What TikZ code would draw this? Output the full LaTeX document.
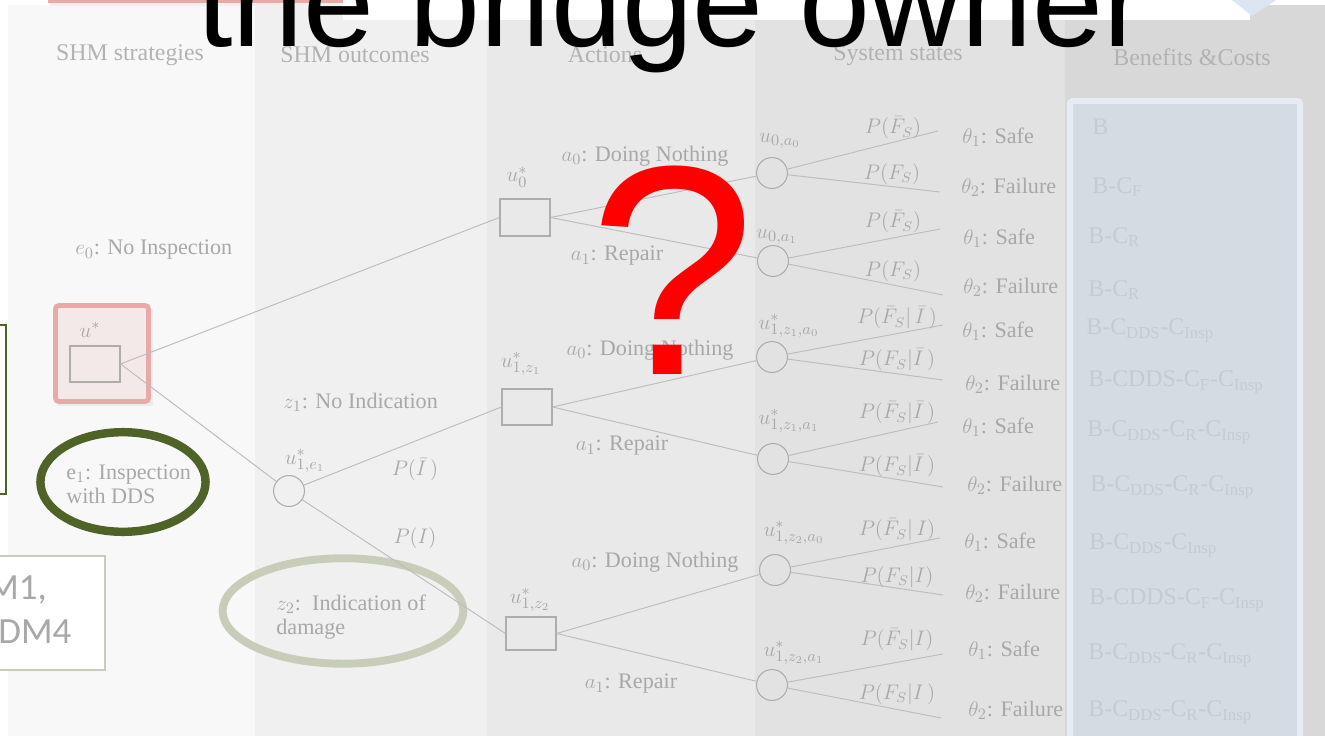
\documentclass[tikz,border=0pt]{standalone}
\usepackage{fontspec}
\setmainfont{Liberation Serif}
\newfontfamily\arialf{Liberation Sans}
\newfontfamily\calibf{Carlito}
\usetikzlibrary{shapes.geometric}
\definecolor{colA}{HTML}{F8F8F8}
\definecolor{colB}{HTML}{F0F0F0}
\definecolor{colC}{HTML}{E9E9E9}
\definecolor{colD}{HTML}{E2E2E2}
\definecolor{colE}{HTML}{D8D8D8}
\definecolor{txtG}{HTML}{A8A8A8}
\definecolor{hdrG}{HTML}{B2B2B2}
\definecolor{lnG}{HTML}{BDBDBD}
\definecolor{nodeG}{HTML}{ADADAD}
\definecolor{pinkB}{HTML}{E8A9A9}
\definecolor{pinkF}{HTML}{F4E9E9}
\definecolor{oliveG}{HTML}{4F6228}
\definecolor{sageG}{HTML}{C7CDB8}
\definecolor{bfOut}{HTML}{E6ECF3}
\definecolor{bfIn}{HTML}{D5DBE3}
\definecolor{bfTxt}{HTML}{C5CBD3}
\definecolor{lblue}{HTML}{DCE6F2}
\newcommand\hdrf{\fontsize{13.6}{16}\selectfont}
\newcommand\lblf{\fontsize{12.6}{15}\selectfont}
\newcommand\smf{\fontsize{12}{14}\selectfont}
\tikzset{
  hdr/.style={text=hdrG, font=\hdrf, inner sep=0pt},
  lbl/.style={text=txtG, font=\lblf, inner sep=0pt},
  prob/.style={text=txtG, font=\smf, inner sep=0pt},
  ben/.style={text=bfTxt, font=\hdrf, inner sep=0pt, anchor=west},
  state/.style={text=txtG, font=\lblf, inner sep=0pt, anchor=west},
  decbox/.style={draw=nodeG, line width=0.8pt, minimum width=28.3pt, inner sep=0pt},
  chance/.style={circle, draw=nodeG, line width=0.6pt, minimum size=17.6pt, inner sep=0pt},
  conn/.style={draw=lnG, line width=0.55pt},
}
\begin{document}
\begin{tikzpicture}[x=0.02cm,y=-0.02cm]
\useasboundingbox (0,0) rectangle (1325,736);
\begin{scope}
\clip (0,0) rectangle (1325,736);
% backgrounds
\fill[white] (0,0) rectangle (1325,736);
\fill[colA] (8,5) rectangle (255,736);
\fill[colB] (255,5) rectangle (487,736);
\fill[colC] (487,5) rectangle (755,736);
\fill[colD] (755,5) rectangle (1065,736);
\fill[colE] (1065,5) rectangle (1325,736);
% top strip
\fill[black!6] (50,0) rectangle (348,6);
\fill[pinkB] (48,-10) rectangle (345,3);
\fill[white] (343,0) rectangle (1250,20);
\fill[lblue] (1232,0) -- (1276,0) -- (1252,16) -- cycle;
% headers
\node[hdr] (h1) at (130,55) {SHM strategies};
\node[hdr] (h2) at (355,55) {SHM outcomes};
\node[hdr] (h3) at (605,55) {Actions};
\node[hdr] (h4) at (898,55) {System states};
\node[hdr] (h5) at (1192,57) {Benefits \&Costs};
% benefits box
\draw[bfOut, line width=3.4pt, fill=bfIn, rounded corners=1.5pt] (1070,101) rectangle (1300,741);
\node[ben] (b1) at (1092,127) {B};
\node[ben] (b2) at (1092,187) {B-C\textsubscript{F}};
\node[ben] (b3) at (1088,237) {B-C\textsubscript{R}};
\node[ben] (b4) at (1088,290) {B-C\textsubscript{R}};
\node[ben] (b5) at (1086,330) {B-C\textsubscript{DDS}-C\textsubscript{Insp}};
\node[ben] (b6) at (1088,382) {B-CDDS-C\textsubscript{F}-C\textsubscript{Insp}};
\node[ben] (b7) at (1087,432) {B-C\textsubscript{DDS}-C\textsubscript{R}-C\textsubscript{Insp}};
\node[ben] (b8) at (1090,487) {B-C\textsubscript{DDS}-C\textsubscript{R}-C\textsubscript{Insp}};
\node[ben] (b9) at (1089,545) {B-C\textsubscript{DDS}-C\textsubscript{Insp}};
\node[ben] (b10) at (1089,600) {B-CDDS-C\textsubscript{F}-C\textsubscript{Insp}};
\node[ben] (b11) at (1088,655) {B-C\textsubscript{DDS}-C\textsubscript{R}-C\textsubscript{Insp}};
\node[ben] (b12) at (1088,712) {B-C\textsubscript{DDS}-C\textsubscript{R}-C\textsubscript{Insp}};
% left partial boxes
\draw[oliveG, line width=0.7pt, fill=white] (-60,325) rectangle (6,494);
\draw[sageG, line width=1.1pt, fill=white] (-60,556) rectangle (105,670);
\node[text=txtG, font=\calibf\fontsize{21}{25}\selectfont, inner sep=0pt, anchor=west] (dm1) at (-13,590) {M1,};
\node[text=txtG, font=\calibf\fontsize{21}{25}\selectfont, inner sep=0pt, anchor=west] (dm4) at (-2,632) {DM4};
% root pink box
\fill[black!8] (58,309) rectangle (153,406);
\draw[pinkB, line width=2.8pt, fill=pinkF, rounded corners=2pt] (55.5,305.5) rectangle (148.5,401.5);
\node[decbox, minimum height=20.4pt, fill=pinkF] (root) at (95,364) {};
\node[lbl] (rootl) at (90,330) {$u^{*}$};
% strategy labels
\node[lbl, anchor=west] (e0) at (75,250) {$e_0$: No Inspection};
\node[ellipse, draw=oliveG, line width=4.8pt, minimum width=94pt, minimum height=56.7pt] (e1e) at (123,482) {};
\node[lbl, anchor=west, align=left] (e1t) at (66,484) {$\mathrm{e}_1$: Inspection\\[-1.5pt]with DDS};
% outcomes
\node[lbl, anchor=west] (z1t) at (283,402) {$z_1$: No Indication};
\node[ellipse, draw=sageG, line width=4.5pt, minimum width=137pt, minimum height=60pt] (z2e) at (343,611) {};
\node[lbl, anchor=west, align=left] (z2t) at (276,617) {$z_2$:\ \ Indication of\\[-1.5pt]damage};
\node[chance] (c1) at (289,491) {};
\node[lbl] (c1l) at (305,461) {$u^{*}_{1,e_1}$};
\node[prob] (pi1) at (415,470) {$P(\bar{I}\,)$};
\node[prob] (pi2) at (415,538) {$P(I)$};
% decision boxes
\node[decbox, minimum height=21pt] (u0) at (525,217.5) {};
\node[lbl] (u0l) at (517,177) {$u^{*}_{0}$};
\node[decbox, minimum height=20.4pt] (z1b) at (527,407) {};
\node[lbl] (z1l) at (521,364) {$u^{*}_{1,z_1}$};
\node[decbox, minimum height=18.7pt] (z2b) at (531,633.5) {};
\node[lbl] (z2l) at (530,600) {$u^{*}_{1,z_2}$};
% action labels
\node[lbl] (a1) at (645,156) {$a_0$: Doing Nothing};
\node[lbl] (a2) at (617,256) {$a_1$: Repair};
\node[lbl] (a3) at (650,350) {$a_0$: Doing Nothing};
\node[lbl] (a4) at (622,446) {$a_1$: Repair};
\node[lbl] (a5) at (655,562) {$a_0$: Doing Nothing};
\node[lbl] (a6) at (631,684) {$a_1$: Repair};
% chance nodes col 4
\node[chance] (k1) at (772,173) {};
\node[chance] (k2) at (773,261) {};
\node[chance] (k3) at (772,357) {};
\node[chance] (k4) at (773,459) {};
\node[chance] (k5) at (775,570) {};
\node[chance] (k6) at (772,685) {};
\node[lbl] (k1l) at (780,141) {$u_{0,a_0}$};
\node[lbl] (k2l) at (777,237) {$u_{0,a_1}$};
\node[lbl] (k3l) at (789,326) {$u^{*}_{1,z_1,a_0}$};
\node[lbl] (k4l) at (789,421) {$u^{*}_{1,z_1,a_1}$};
\node[lbl] (k5l) at (794,533) {$u^{*}_{1,z_2,a_0}$};
\node[lbl] (k6l) at (794,653) {$u^{*}_{1,z_2,a_1}$};
% branch ends
\coordinate (s1u) at (938,131); \coordinate (s1l) at (940,192);
\coordinate (s2u) at (940,229); \coordinate (s2l) at (943,295);
\coordinate (s3u) at (943,325); \coordinate (s3l) at (943,380);
\coordinate (s4u) at (938,422); \coordinate (s4l) at (943,487);
\coordinate (s5u) at (940,538); \coordinate (s5l) at (943,595);
\coordinate (s6u) at (943,654); \coordinate (s6l) at (941,718);
% connectors
\draw[conn] (root.east) -- (u0.west);
\draw[conn] (root.east) -- (c1);
\draw[conn] (c1) -- (z1b.west);
\draw[conn] (c1) -- (z2b.west);
\draw[conn] (u0.east) -- (k1); \draw[conn] (u0.east) -- (k2);
\draw[conn] (z1b.east) -- (k3); \draw[conn] (z1b.east) -- (k4);
\draw[conn] (z2b.east) -- (k5); \draw[conn] (z2b.east) -- (k6);
\draw[conn] (k1) -- (s1u); \draw[conn] (k1) -- (s1l);
\draw[conn] (k2) -- (s2u); \draw[conn] (k2) -- (s2l);
\draw[conn] (k3) -- (s3u); \draw[conn] (k3) -- (s3l);
\draw[conn] (k4) -- (s4u); \draw[conn] (k4) -- (s4l);
\draw[conn] (k5) -- (s5u); \draw[conn] (k5) -- (s5l);
\draw[conn] (k6) -- (s6u); \draw[conn] (k6) -- (s6l);
% probability labels
\node[prob] (p1u) at (893,128) {$P(\bar{F}_S)$};
\node[prob] (p1l) at (892,174) {$P(F_S)$};
\node[prob] (p2u) at (893,222) {$P(\bar{F}_S)$};
\node[prob] (p2l) at (893,271) {$P(F_S)$};
\node[prob] (p3u) at (897,318) {$P(\bar{F}_S|\,\bar{I}\,)$};
\node[prob] (p3l) at (897,360) {$P(F_S|\bar{I}\,)$};
\node[prob] (p4u) at (897,413) {$P(\bar{F}_S|\bar{I}\,)$};
\node[prob] (p4l) at (897,466) {$P(F_S|\bar{I}\,)$};
\node[prob] (p5u) at (897,530) {$P(\bar{F}_S|\,I)$};
\node[prob] (p5l) at (897,577) {$P(F_S|I)$};
\node[prob] (p6u) at (897,640) {$P(\bar{F}_S|I)$};
\node[prob] (p6l) at (897,694) {$P(F_S|I\,)$};
% state labels
\node[state] (t1) at (962,137) {$\theta_1$: Safe};
\node[state] (t2) at (961,187) {$\theta_2$: Failure};
\node[state] (t3) at (963,238) {$\theta_1$: Safe};
\node[state] (t4) at (963,287) {$\theta_2$: Failure};
\node[state] (t5) at (962,331) {$\theta_1$: Safe};
\node[state] (t6) at (965,384) {$\theta_2$: Failure};
\node[state] (t7) at (962,427) {$\theta_1$: Safe};
\node[state] (t8) at (967,485) {$\theta_2$: Failure};
\node[state] (t9) at (964,542) {$\theta_1$: Safe};
\node[state] (t10) at (965,593) {$\theta_2$: Failure};
\node[state] (t11) at (968,650) {$\theta_1$: Safe};
\node[state] (t12) at (968,710) {$\theta_2$: Failure};
% overlay title and question mark
\node[anchor=base west, inner sep=0pt, font=\arialf\fontsize{72.5}{80}\selectfont, text=black] (title) at (197,47) {the bridge owner};
\node[anchor=base, inner sep=0pt, font=\arialf\fontsize{170}{185}\selectfont, text=red] (qm) at (673,375) {?};
\end{scope}
\end{tikzpicture}
\end{document}
